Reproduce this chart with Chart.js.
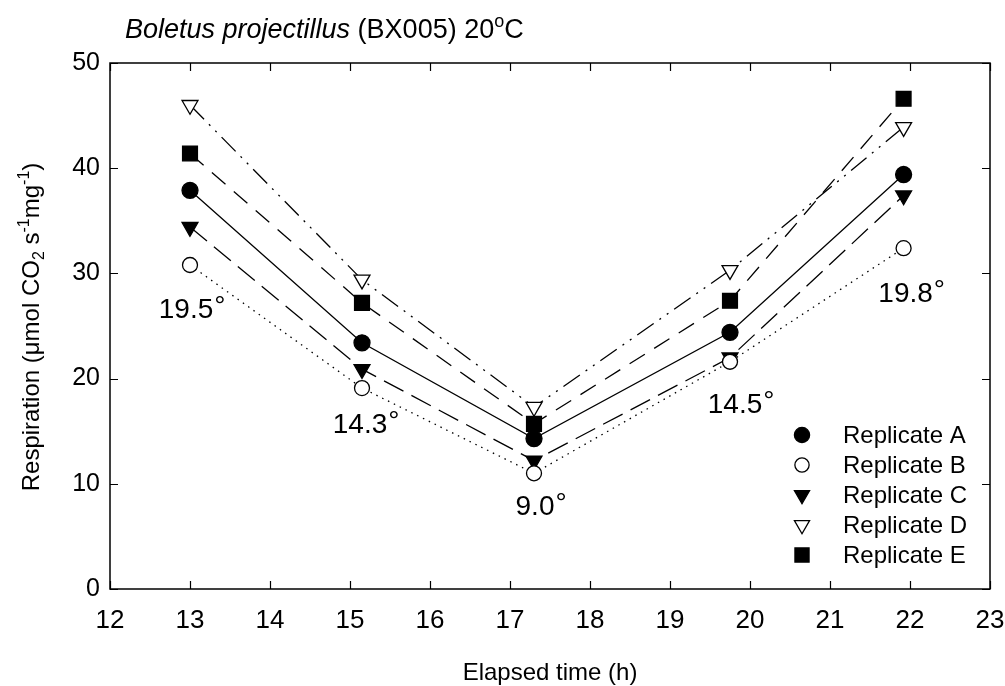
<!DOCTYPE html>
<html>
<head>
<meta charset="utf-8">
<script src="https://cdn.jsdelivr.net/npm/chart.js@4"></script>
<style>
  html, body { margin: 0; padding: 0; background: #fff; }
  #c { display: block; }
</style>
</head>
<body>
<canvas id="c" width="1005" height="686"></canvas>
<script>
// ---- data ----
const hours = [13, 15.15, 17.3, 19.75, 21.92];
const repA = [37.9, 23.4, 14.3, 24.4, 39.4];
const repB = [30.8, 19.1, 11.0, 21.6, 32.4];
const repC = [34.4, 20.9, 12.2, 22.0, 37.4];
const repD = [46.0, 29.4, 17.3, 30.3, 43.9];
const repE = [41.4, 27.2, 15.7, 27.4, 46.6];
const seriesNames = ['Replicate A', 'Replicate B', 'Replicate C', 'Replicate D', 'Replicate E'];
const tempLabels = ['19.5', '14.3', '9.0', '14.5', '19.8'];
const xTicks = [12, 13, 14, 15, 16, 17, 18, 19, 20, 21, 22, 23];
const yTicks = [0, 10, 20, 30, 40, 50];

// ---- styling (not data) ----
const FONT = "'Liberation Sans', Arial, Helvetica, sans-serif";
const tempOffsets = [[-4, 53], [-2, 45], [1, 42], [5, 51], [2, 54]];

function pts(arr) { return hours.map((h, i) => ({ x: h, y: arr[i] })); }

const styles = [
  { style: 'circle',   radius: 8,    fill: '#000', dash: [],                 rot: 0 },
  { style: 'circle',   radius: 7.5,  fill: '#fff', dash: [1.5, 5],           rot: 0 },
  { style: 'triangle', radius: 9.2,  fill: '#000', dash: [22, 9],            rot: 180 },
  { style: 'triangle', radius: 9.2,  fill: '#fff', dash: [20, 7, 2, 7, 2, 7], rot: 180 },
  { style: 'rect',     radius: 10.5, fill: '#000', dash: [18, 11],           rot: 0 }
];
const seriesData = [repA, repB, repC, repD, repE];

const datasets = seriesData.map((arr, i) => ({
  label: seriesNames[i],
  data: pts(arr),
  borderColor: '#000',
  borderWidth: 1.3,
  borderDash: styles[i].dash,
  pointStyle: styles[i].style,
  pointRadius: styles[i].radius,
  pointHoverRadius: styles[i].radius,
  pointRotation: styles[i].rot,
  pointBackgroundColor: styles[i].fill,
  pointBorderColor: '#000',
  pointBorderWidth: 1.3,
  fill: false,
  tension: 0
}));

function drawSegments(ctx, segs, x, y, align) {
  let total = 0;
  segs.forEach(s => { ctx.font = s.font; total += ctx.measureText(s.t).width; });
  let cx = align === 'center' ? x - total / 2 : x;
  segs.forEach(s => {
    ctx.font = s.font;
    ctx.fillText(s.t, cx, y + (s.dy || 0));
    cx += ctx.measureText(s.t).width;
  });
}

const decor = {
  id: 'decor',
  afterDatasetsDraw(chart) {
    const ctx = chart.ctx;
    const a = chart.chartArea;
    const xs = chart.scales.x, ys = chart.scales.y;
    ctx.save();
    ctx.setLineDash([]);
    // frame
    ctx.strokeStyle = '#000';
    ctx.lineWidth = 1.5;
    ctx.strokeRect(a.left, a.top, a.right - a.left, a.bottom - a.top);
    // inward ticks on all sides
    ctx.lineWidth = 1.2;
    const tl = 8;
    ctx.beginPath();
    xTicks.forEach(v => {
      const px = Math.round(xs.getPixelForValue(v)) + 0.5;
      ctx.moveTo(px, a.bottom); ctx.lineTo(px, a.bottom - tl);
      ctx.moveTo(px, a.top); ctx.lineTo(px, a.top + tl);
    });
    yTicks.forEach(v => {
      const py = Math.round(ys.getPixelForValue(v)) + 0.5;
      ctx.moveTo(a.left, py); ctx.lineTo(a.left + tl, py);
      ctx.moveTo(a.right, py); ctx.lineTo(a.right - tl, py);
    });
    ctx.stroke();

    ctx.fillStyle = '#000';
    ctx.textBaseline = 'alphabetic';
    ctx.textAlign = 'left';

    // temperature annotations, anchored to replicate B points
    tempLabels.forEach((t, i) => {
      const px = xs.getPixelForValue(hours[i]) + tempOffsets[i][0];
      const py = ys.getPixelForValue(repB[i]) + tempOffsets[i][1];
      ctx.font = '28px ' + FONT;
      const w = ctx.measureText(t).width;
      ctx.fillText(t, px - w / 2, py);
      ctx.font = '300 28px ' + FONT;
      ctx.fillText('\u00B0', px + w / 2 + 1, py - 3);
    });

    // legend
    chart.data.datasets.forEach((ds, i) => {
      const y = 435 + 30 * i;
      const x = 802;
      const opts = {
        pointStyle: ds.pointStyle,
        radius: ds.pointRadius * 0.95,
        rotation: ds.pointRotation,
        borderWidth: 1.3
      };
      ctx.fillStyle = ds.pointBackgroundColor;
      ctx.strokeStyle = '#000';
      ctx.lineWidth = 1.3;
      Chart.helpers.drawPoint(ctx, opts, x, y);
      ctx.fillStyle = '#000';
      ctx.font = '24px ' + FONT;
      ctx.textBaseline = 'middle';
      ctx.fillText(ds.label, 843, y + 1);
      ctx.textBaseline = 'alphabetic';
    });

    // title
    drawSegments(ctx, [
      { t: 'Boletus projectillus', font: 'italic 27px ' + FONT },
      { t: ' (BX005) 20', font: '27px ' + FONT },
      { t: 'o', font: '18px ' + FONT, dy: -11 },
      { t: 'C', font: '27px ' + FONT }
    ], 125, 38, 'left');

    // x axis title
    drawSegments(ctx, [{ t: 'Elapsed time (h)', font: '24px ' + FONT }],
      (a.left + a.right) / 2, 680, 'center');

    // y axis title (rotated)
    ctx.translate(39, 327);
    ctx.rotate(-Math.PI / 2);
    drawSegments(ctx, [
      { t: 'Respiration (\u03BCmol CO', font: '24px ' + FONT },
      { t: '2', font: '16px ' + FONT, dy: 5 },
      { t: ' s', font: '24px ' + FONT },
      { t: '-1', font: '16px ' + FONT, dy: -10 },
      { t: 'mg', font: '24px ' + FONT },
      { t: '-1', font: '16px ' + FONT, dy: -10 },
      { t: ')', font: '24px ' + FONT }
    ], 0, 0, 'center');
    ctx.restore();
  }
};

new Chart(document.getElementById('c'), {
  type: 'line',
  data: { datasets },
  options: {
    responsive: false,
    animation: false,
    devicePixelRatio: 1,
    layout: { padding: { left: 0, top: 63, right: 15, bottom: 0 } },
    plugins: { legend: { display: false }, tooltip: { enabled: false }, title: { display: false } },
    scales: {
      x: {
        type: 'linear', min: 12, max: 23,
        afterFit(s) { s.height = 97; s.paddingLeft = 0; s.paddingRight = 0; },
        afterBuildTicks(s) { s.ticks = xTicks.map(v => ({ value: v })); },
        grid: { display: false, drawTicks: false },
        border: { display: false },
        ticks: { color: '#000', font: { size: 26, family: FONT }, padding: 16, maxRotation: 0, autoSkip: false }
      },
      y: {
        type: 'linear', min: 0, max: 50,
        afterFit(s) { s.width = 110; s.paddingTop = 0; s.paddingBottom = 0; },
        afterBuildTicks(s) { s.ticks = yTicks.map(v => ({ value: v })); },
        grid: { display: false, drawTicks: false },
        border: { display: false },
        ticks: { color: '#000', font: { size: 25, family: FONT }, padding: 10 }
      }
    }
  },
  plugins: [decor]
});
</script>
</body>
</html>
